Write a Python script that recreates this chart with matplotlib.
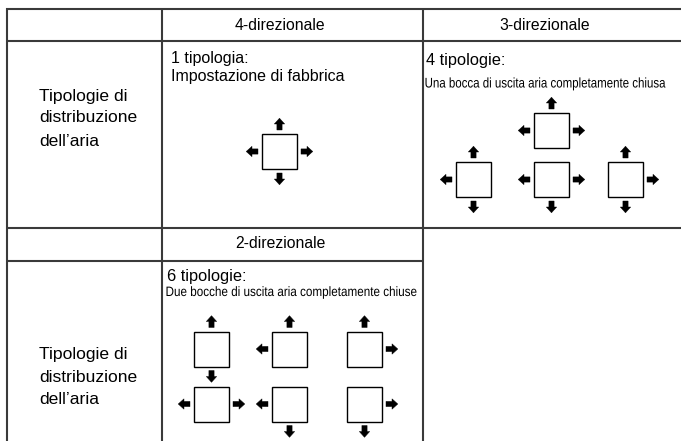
import matplotlib
matplotlib.use("Agg")
import matplotlib.pyplot as plt
from matplotlib.patches import Polygon, Rectangle, PathPatch
from matplotlib.textpath import TextPath
from matplotlib.font_manager import FontProperties
from matplotlib.transforms import Affine2D

# ---- content ----
col_headers = ["4-direzionale", "3-direzionale", "2-direzionale"]
row_label = ["Tipologie di", "distribuzione", "dell\u2019aria"]
counts = ["1 tipologia:", "4 tipologie:", "6 tipologie:"]
descriptions = ["Impostazione di fabbrica",
                "Una bocca di uscita aria completamente chiusa",
                "Due bocche di uscita aria completamente chiuse"]
# open outlets for each pattern (U=up, D=down, L=left, R=right)
patterns_4dir = [["U", "D", "L", "R"]]
patterns_3dir = [["U", "L", "R"], ["U", "L", "D"], ["L", "R", "D"], ["U", "R", "D"]]
patterns_2dir = [["U", "D"], ["U", "L"], ["U", "R"], ["L", "R"], ["L", "D"], ["R", "D"]]

SANS = "Liberation Sans"

W, H = 681, 441
fig = plt.figure(figsize=(W / 100, H / 100), dpi=100)
ax = fig.add_axes([0, 0, 1, 1])
ax.set_xlim(0, W)
ax.set_ylim(H, 0)
ax.axis("off")

LC = "#3a3a3a"
LW = 1.5

def hline(y, x0, x1):
    ax.plot([x0, x1], [y, y], color=LC, lw=LW, solid_capstyle="butt")

def vline(x, y0, y1):
    ax.plot([x, x], [y0, y1], color=LC, lw=LW, solid_capstyle="butt")

# table grid
hline(8.5, 6, W)
hline(41, 6, W)
hline(228, 6, W)
hline(261, 6, 423)
vline(7, 8, H)
vline(162, 8, H)
vline(423, 8, H)

def text(x, y, s, size, ha="left", **kw):
    ax.text(x, y, s, fontsize=size, ha=ha, va="center", family=SANS, color="black", **kw)

text(280, 25, col_headers[0], 11.3, ha="center")
text(545, 25, col_headers[1], 11.3, ha="center")
text(280, 244, col_headers[2], 11.3, ha="center")

for yy in ([96, 118, 141], [355, 377, 400]):
    for s, y in zip(row_label, yy):
        text(39, y, s, 12.6)

text(171, 59, counts[0], 11.5)
text(171, 76, descriptions[0], 11.5)
text(426, 61, counts[1], 11.8)
text(167, 277, counts[2], 11.8)

def narrow_text(x, baseline, s, width, em_px):
    """Condensed text drawn as a horizontally squeezed text path (pixel coords)."""
    tp = TextPath((0, 0), s, size=em_px, prop=FontProperties(family=SANS))
    ext = tp.get_extents()
    sx = width / ext.width
    tr = Affine2D().translate(-ext.x0, 0).scale(sx, -1).translate(x, baseline)
    path = tr.transform_path(tp)
    ax.add_patch(PathPatch(path, fc="black", ec="none", lw=0))

narrow_text(425.5, 87.5, descriptions[1], 240, 14.0)
narrow_text(166.5, 296, descriptions[2], 250, 13.6)

BOX = 35
GAP = 4
SH, SL, HH, HL = 2.6, 6.0, 5.2, 5.8
DIRS = {"U": (0, -1), "D": (0, 1), "L": (-1, 0), "R": (1, 0)}

def arrow(cx, cy, d):
    ux, uy = DIRS[d]
    px, py = -uy, ux
    off = BOX / 2 + GAP
    tx, ty = cx + ux * off, cy + uy * off
    local = [(0, -SH), (SL, -SH), (SL, -HH), (SL + HL, 0), (SL, HH), (SL, SH), (0, SH)]
    pts = [(tx + ux * a + px * b, ty + uy * a + py * b) for a, b in local]
    ax.add_patch(Polygon(pts, closed=True, fc="black", ec="black", lw=0.3))

def unit(cx, cy, dirs):
    ax.add_patch(Rectangle((cx - BOX / 2, cy - BOX / 2), BOX, BOX, fc="white", ec="black", lw=1.0))
    for d in dirs:
        arrow(cx, cy, d)

centers_4 = [(279.5, 151.5)]
centers_3 = [(551.5, 130.5), (473.5, 179.5), (551.5, 179.5), (625.5, 179.5)]
centers_2 = [(211.5, 349), (289.5, 349), (364.5, 349), (211.5, 404), (289.5, 404), (364.5, 404)]

for (cx, cy), p in zip(centers_4, patterns_4dir):
    unit(cx, cy, p)
for (cx, cy), p in zip(centers_3, patterns_3dir):
    unit(cx, cy, p)
for (cx, cy), p in zip(centers_2, patterns_2dir):
    unit(cx, cy, p)

fig.savefig("out.png", dpi=100, facecolor="white")
